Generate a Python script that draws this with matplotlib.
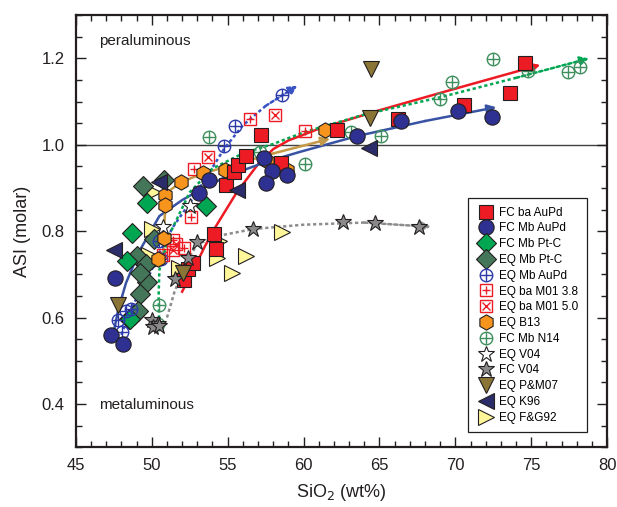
import matplotlib
matplotlib.use('Agg')
import matplotlib.pyplot as plt
from matplotlib.ticker import MultipleLocator

plt.rcParams['font.family'] = ['Liberation Sans', 'DejaVu Sans']

# ---- data ----
fc_ba_aupd_x = [52.1, 52.4, 52.7, 54.1, 54.2, 54.9, 55.4, 55.7, 56.2, 57.2, 58.5, 62.2, 66.2, 70.6, 73.6, 74.6]
fc_ba_aupd_y = [0.688, 0.713, 0.727, 0.793, 0.758, 0.908, 0.938, 0.953, 0.975, 1.023, 0.959, 1.035, 1.059, 1.092, 1.12, 1.19]

fc_mb_aupd_x = [47.3, 48.1, 47.6, 53.1, 53.8, 57.4, 57.9, 57.5, 58.9, 63.5, 66.4, 70.2, 72.4]
fc_mb_aupd_y = [0.559, 0.540, 0.691, 0.888, 0.919, 0.969, 0.939, 0.912, 0.929, 1.021, 1.054, 1.079, 1.065]

fc_mb_ptc_x = [48.7, 49.7, 48.4, 48.55, 53.6]
fc_mb_ptc_y = [0.795, 0.865, 0.73, 0.597, 0.859]

eq_mb_ptc_x = [49.4, 50.8, 50.15, 49.0, 49.6, 49.7, 49.2, 49.2, 48.8, 49.1, 48.5]
eq_mb_ptc_y = [0.905, 0.919, 0.782, 0.743, 0.724, 0.683, 0.654, 0.704, 0.606, 0.615, 0.596]

eq_mb_aupd_x = [58.6, 55.5, 54.75, 53.8, 50.5, 50.6, 47.8, 48.05, 48.3, 48.6]
eq_mb_aupd_y = [1.116, 1.043, 0.998, 0.919, 0.777, 0.736, 0.594, 0.567, 0.616, 0.62]

eq_m01_38_x = [56.5, 60.1, 52.8, 52.6, 52.1, 51.4]
eq_m01_38_y = [1.059, 1.031, 0.944, 0.833, 0.762, 0.779]

eq_m01_50_x = [58.1, 53.7, 51.6, 51.4, 50.75]
eq_m01_50_y = [1.069, 0.971, 0.771, 0.756, 0.745]

eq_b13_x = [61.4, 57.6, 58.9, 54.8, 53.4, 51.9, 50.9, 50.9, 50.8, 50.4]
eq_b13_y = [1.035, 0.963, 0.942, 0.941, 0.934, 0.914, 0.883, 0.86, 0.785, 0.735]

fc_n14_x = [72.45, 74.8, 77.4, 78.2, 69.8, 69.0, 65.1, 63.1, 60.1, 53.8, 57.1, 50.5, 50.4]
fc_n14_y = [1.198, 1.172, 1.168, 1.18, 1.145, 1.105, 1.02, 1.029, 0.956, 1.019, 0.983, 0.629, 0.584]

eq_v04_x = [52.5, 50.75]
eq_v04_y = [0.859, 0.81]

fc_v04_x = [62.6, 64.7, 67.6, 56.7, 53.0, 52.4, 51.5, 50.0, 50.4, 50.1, 50.5]
fc_v04_y = [0.822, 0.818, 0.81, 0.805, 0.775, 0.737, 0.69, 0.594, 0.584, 0.578, 0.58]

eq_pm07_x = [64.45, 64.35, 52.06, 47.8]
eq_pm07_y = [1.176, 1.062, 0.704, 0.629]

eq_k96_x = [64.3, 55.6, 50.5, 47.5]
eq_k96_y = [0.993, 0.896, 0.914, 0.756]

eq_fg92_x = [58.6, 56.2, 55.3, 54.3, 54.4, 51.8, 50.1, 50.0, 49.8, 49.8]
eq_fg92_y = [0.797, 0.743, 0.703, 0.737, 0.777, 0.715, 0.89, 0.806, 0.745, 0.722]

# trend curves (traced)
red_fit_x = [52.0, 52.8, 53.5, 54.2, 55.6, 57.0, 58.0, 59.0, 61.0, 65.0, 70.0, 75.6]
red_fit_y = [0.66, 0.715, 0.765, 0.81, 0.89, 0.955, 0.99, 1.01, 1.037, 1.08, 1.13, 1.185]
blue_fit_x = [47.4, 47.8, 48.3, 49.2, 50.5, 52.0, 53.5, 55.0, 57.5, 59.7, 63.5, 68.0, 72.7]
blue_fit_y = [0.55, 0.62, 0.68, 0.755, 0.835, 0.872, 0.902, 0.928, 0.96, 0.983, 1.02, 1.055, 1.087]
tan_fit_x = [50.75, 50.8, 50.9, 51.2, 52.0, 53.5, 55.5, 58.0, 61.75]
tan_fit_y = [0.73, 0.80, 0.86, 0.895, 0.915, 0.935, 0.955, 0.98, 1.014]
bdot_fit_x = [48.0, 48.6, 49.6, 50.5, 51.4, 52.5, 53.7, 54.75, 56.0, 57.5, 59.6]
bdot_fit_y = [0.56, 0.62, 0.68, 0.75, 0.81, 0.865, 0.93, 0.99, 1.045, 1.09, 1.137]
gdot_fit_x = [50.5, 50.45, 50.5, 51.2, 52.5, 54.0, 56.0, 58.0, 60.1, 64.0, 69.0, 74.0, 78.8]
gdot_fit_y = [0.57, 0.65, 0.71, 0.795, 0.89, 0.945, 0.98, 1.002, 1.03, 1.07, 1.11, 1.155, 1.2]
gray_fit_x = [51.0, 51.5, 52.3, 53.0, 54.5, 56.7, 60.0, 64.0, 68.4]
gray_fit_y = [0.60, 0.66, 0.73, 0.77, 0.79, 0.805, 0.815, 0.82, 0.81]

EDGE = '#231f20'

fig = plt.figure(figsize=(6.17, 5.07), dpi=100)
ax = fig.add_axes([0.123, 0.118, 0.861, 0.852])

ax.axhline(1.0, color='#404040', lw=1.0, zorder=1)

def fit(xs, ys, color, ls):
    ax.plot(xs[:-1], ys[:-1], color=color, lw=1.8, ls=ls, zorder=2)
    ax.annotate('', xy=(xs[-1], ys[-1]), xytext=(xs[-2], ys[-2]),
                arrowprops=dict(arrowstyle='-|>', color=color, lw=1.8,
                                linestyle=ls, mutation_scale=13, shrinkA=0, shrinkB=0),
                zorder=2)

dot = (0, (1.3, 1.1))
fit(red_fit_x, red_fit_y, '#ed1c24', '-')
fit(blue_fit_x, blue_fit_y, '#3953a4', '-')
fit(tan_fit_x, tan_fit_y, '#c49a48', '-')
fit(bdot_fit_x, bdot_fit_y, '#3953c4', dot)
fit(gdot_fit_x, gdot_fit_y, '#00a651', dot)
fit(gray_fit_x, gray_fit_y, '#8c8c8c', dot)

def pts(x, y, marker, fc, ms, ec=EDGE, mew=0.8, z=3):
    return ax.plot(x, y, ls='none', marker=marker, mfc=fc, mec=ec, ms=ms, mew=mew, zorder=z)[0]

def cross(x, y, base, over, color, ms):
    a = ax.plot(x, y, ls='none', marker=base, mfc='none', mec=color, ms=ms, mew=1.0, zorder=3)[0]
    b = ax.plot(x, y, ls='none', marker=over, color=color, ms=ms * (0.72 if base == 's' else 0.95),
                mew=1.0, zorder=3)[0]
    return (a, b)

h_f92 = pts(eq_fg92_x, eq_fg92_y, '>', '#fff799', 11)
h_emp = pts(eq_mb_ptc_x, eq_mb_ptc_y, 'D', '#44775a', 10)
h_fmp = pts(fc_mb_ptc_x, fc_mb_ptc_y, 'D', '#00a651', 10)
h_ema = cross(eq_mb_aupd_x, eq_mb_aupd_y, 'o', '+', '#2b3aa8', 9)
h_m38 = cross(eq_m01_38_x, eq_m01_38_y, 's', '+', '#ed1c24', 8.5)
h_m50 = cross(eq_m01_50_x, eq_m01_50_y, 's', 'x', '#ed1c24', 8.5)
h_n14 = cross(fc_n14_x, fc_n14_y, 'o', '+', '#3e8e5e', 9)
h_b13 = pts(eq_b13_x, eq_b13_y, 'h', '#f7941d', 11)
h_fba = pts(fc_ba_aupd_x, fc_ba_aupd_y, 's', '#ed1c24', 10)
h_fma = pts(fc_mb_aupd_x, fc_mb_aupd_y, 'o', '#2e3192', 11)
h_v04e = pts(eq_v04_x, eq_v04_y, '*', 'white', 12)
h_v04f = pts(fc_v04_x, fc_v04_y, '*', '#8a8a8a', 12)
h_pm = pts(eq_pm07_x, eq_pm07_y, 'v', '#8b7536', 11)
h_k96 = pts(eq_k96_x, eq_k96_y, '<', '#2a2d6a', 11)

handles = [h_fba, h_fma, h_fmp, h_emp, h_ema, h_m38, h_m50, h_b13, h_n14,
           h_v04e, h_v04f, h_pm, h_k96, h_f92]
labels = ['FC ba AuPd', 'FC Mb AuPd', 'FC Mb Pt-C', 'EQ Mb Pt-C', 'EQ Mb AuPd',
          'EQ ba M01 3.8', 'EQ ba M01 5.0', 'EQ B13', 'FC Mb N14', 'EQ V04',
          'FC V04', 'EQ P&M07', 'EQ K96', 'EQ F&G92']
leg = ax.legend(handles, labels, loc='lower right', bbox_to_anchor=(0.962, 0.035),
                borderaxespad=0, fontsize=8.5, frameon=True, fancybox=False,
                edgecolor='#231f20', framealpha=1, labelspacing=0.32,
                handletextpad=0.35, borderpad=0.7, handlelength=1.6)
leg.get_frame().set_linewidth(0.9)
leg.set_zorder(5)

ax.text(46.5, 1.23, 'peraluminous', fontsize=11, color='#231f20')
ax.text(46.5, 0.397, 'metaluminous', fontsize=11, color='#231f20', va='center')

ax.set_xlim(45, 80)
ax.set_ylim(0.3, 1.3)
ax.set_yticks([0.4, 0.6, 0.8, 1.0, 1.2])
ax.xaxis.set_major_locator(MultipleLocator(5))
ax.xaxis.set_minor_locator(MultipleLocator(1))
ax.yaxis.set_minor_locator(MultipleLocator(0.05))
ax.tick_params(which='both', direction='in', top=True, right=True,
               labelsize=12, colors='#231f20', width=1.0)
ax.tick_params(which='major', length=7, pad=8)
ax.tick_params(which='minor', length=4)
for s in ax.spines.values():
    s.set_linewidth(1.6)
    s.set_color('#231f20')

ax.set_xlabel('SiO$_2$ (wt%)', fontsize=13, color='#231f20', labelpad=6)
ax.set_ylabel('ASI (molar)', fontsize=13, color='#231f20', labelpad=8)

fig.savefig('out.png', dpi=100)
